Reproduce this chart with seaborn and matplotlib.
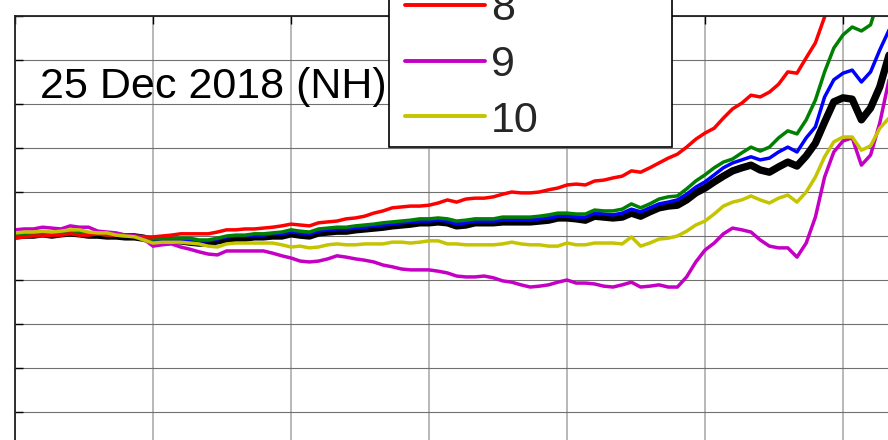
import matplotlib
matplotlib.use("Agg")
import matplotlib.pyplot as plt
import seaborn as sns
from matplotlib.legend_handler import HandlerLine2D

# ---- data (days since start, anomaly in arbitrary units, 1 grid step = 1 unit) ----
days = list(range(0, 191, 2))

mean_vals = [0.00, 0.02, 0.02, 0.05, 0.02, 0.05, 0.07, 0.05, 0.02, 0.02,
             0.00, 0.00, -0.02, -0.02, -0.05, -0.11, -0.11, -0.11, -0.11, -0.14,
             -0.16, -0.16, -0.11, -0.07, -0.05, -0.05, -0.02, -0.02, 0.00, 0.00,
             0.05, 0.02, 0.00, 0.07, 0.09, 0.11, 0.11, 0.14, 0.16, 0.18,
             0.20, 0.23, 0.25, 0.27, 0.30, 0.30, 0.32, 0.30, 0.23, 0.25,
             0.30, 0.30, 0.30, 0.32, 0.32, 0.32, 0.32, 0.34, 0.36, 0.41,
             0.41, 0.39, 0.36, 0.45, 0.43, 0.41, 0.43, 0.52, 0.45, 0.55,
             0.64, 0.68, 0.70, 0.82, 0.98, 1.09, 1.23, 1.36, 1.48, 1.55,
             1.61, 1.50, 1.45, 1.57, 1.68, 1.59, 1.82, 2.11, 2.59, 3.05,
             3.14, 3.11, 2.64, 2.91, 3.39, 4.11]

blue_vals = [0.02, 0.05, 0.05, 0.07, 0.05, 0.07, 0.09, 0.07, 0.05, 0.05,
             0.02, 0.02, 0.00, 0.00, -0.02, -0.07, -0.07, -0.07, -0.07, -0.09,
             -0.11, -0.11, -0.07, -0.02, 0.00, 0.00, 0.02, 0.02, 0.05, 0.05,
             0.09, 0.07, 0.05, 0.11, 0.14, 0.16, 0.16, 0.18, 0.20, 0.23,
             0.25, 0.27, 0.30, 0.32, 0.34, 0.34, 0.36, 0.34, 0.27, 0.30,
             0.34, 0.34, 0.34, 0.36, 0.36, 0.36, 0.36, 0.39, 0.41, 0.45,
             0.45, 0.43, 0.43, 0.52, 0.50, 0.48, 0.52, 0.61, 0.55, 0.64,
             0.73, 0.77, 0.82, 0.95, 1.11, 1.23, 1.39, 1.55, 1.66, 1.73,
             1.80, 1.73, 1.77, 1.91, 2.02, 1.91, 2.23, 2.48, 3.16, 3.55,
             3.70, 3.77, 3.50, 3.73, 4.23, 4.68]

green_vals = [0.02, 0.05, 0.05, 0.07, 0.05, 0.07, 0.09, 0.07, 0.05, 0.05,
              0.02, 0.02, 0.00, 0.00, -0.02, -0.07, -0.05, -0.05, -0.05, -0.05,
              -0.09, -0.09, -0.05, 0.00, 0.02, 0.02, 0.05, 0.05, 0.07, 0.09,
              0.14, 0.11, 0.09, 0.16, 0.18, 0.20, 0.20, 0.23, 0.25, 0.27,
              0.30, 0.32, 0.34, 0.36, 0.39, 0.39, 0.41, 0.39, 0.34, 0.36,
              0.39, 0.39, 0.39, 0.43, 0.43, 0.43, 0.43, 0.45, 0.48, 0.52,
              0.52, 0.50, 0.50, 0.59, 0.57, 0.57, 0.61, 0.73, 0.64, 0.73,
              0.84, 0.89, 0.91, 1.07, 1.25, 1.39, 1.55, 1.68, 1.75, 1.89,
              2.02, 1.93, 2.02, 2.23, 2.39, 2.32, 2.64, 3.09, 3.73, 4.27,
              4.57, 4.75, 4.66, 4.80, 5.48, 6.05]

red_vals = [-0.05, -0.02, 0.00, 0.00, 0.02, 0.02, 0.05, 0.02, 0.02, 0.05,
            0.02, 0.02, 0.00, 0.00, -0.02, -0.02, 0.00, 0.02, 0.05, 0.05,
            0.05, 0.05, 0.09, 0.14, 0.14, 0.16, 0.16, 0.18, 0.20, 0.23,
            0.27, 0.25, 0.23, 0.30, 0.32, 0.34, 0.39, 0.41, 0.45, 0.52,
            0.57, 0.64, 0.66, 0.68, 0.68, 0.70, 0.75, 0.82, 0.77, 0.84,
            0.86, 0.86, 0.89, 0.95, 1.00, 0.98, 0.98, 1.00, 1.05, 1.09,
            1.16, 1.18, 1.16, 1.25, 1.27, 1.32, 1.36, 1.48, 1.45, 1.55,
            1.66, 1.77, 1.86, 2.02, 2.20, 2.34, 2.45, 2.68, 2.89, 3.02,
            3.20, 3.16, 3.27, 3.45, 3.73, 3.70, 4.05, 4.39, 4.98, 5.59,
            6.05, 6.27, 6.39, 6.50, 6.61, 6.73]

magenta_vals = [0.14, 0.16, 0.16, 0.20, 0.18, 0.16, 0.23, 0.20, 0.20, 0.11,
                0.09, 0.07, 0.02, 0.00, -0.07, -0.23, -0.20, -0.18, -0.25, -0.30,
                -0.36, -0.41, -0.43, -0.34, -0.34, -0.34, -0.34, -0.34, -0.39, -0.45,
                -0.50, -0.57, -0.59, -0.57, -0.52, -0.45, -0.48, -0.52, -0.55, -0.59,
                -0.66, -0.70, -0.75, -0.77, -0.77, -0.77, -0.80, -0.84, -0.91, -0.93,
                -0.93, -0.91, -0.95, -1.02, -1.05, -1.11, -1.16, -1.14, -1.11, -1.05,
                -1.00, -1.07, -1.07, -1.09, -1.14, -1.16, -1.11, -1.05, -1.16, -1.14,
                -1.11, -1.16, -1.16, -0.93, -0.59, -0.32, -0.16, 0.05, 0.18, 0.14,
                0.09, -0.09, -0.23, -0.27, -0.27, -0.48, -0.16, 0.43, 1.34, 1.91,
                2.16, 2.23, 1.61, 1.84, 2.57, 3.55]

yellow_vals = [0.07, 0.09, 0.09, 0.11, 0.09, 0.11, 0.14, 0.14, 0.09, 0.07,
               0.07, 0.02, 0.00, -0.02, -0.09, -0.16, -0.14, -0.14, -0.14, -0.16,
               -0.18, -0.23, -0.25, -0.18, -0.16, -0.16, -0.16, -0.16, -0.16, -0.20,
               -0.25, -0.23, -0.27, -0.25, -0.20, -0.18, -0.20, -0.20, -0.18, -0.18,
               -0.18, -0.14, -0.14, -0.16, -0.14, -0.11, -0.11, -0.18, -0.18, -0.20,
               -0.20, -0.20, -0.20, -0.18, -0.14, -0.18, -0.20, -0.20, -0.23, -0.23,
               -0.16, -0.20, -0.20, -0.16, -0.16, -0.16, -0.18, -0.02, -0.23, -0.16,
               -0.07, -0.05, 0.00, 0.11, 0.25, 0.34, 0.50, 0.68, 0.77, 0.82,
               0.91, 0.82, 0.75, 0.86, 0.93, 0.77, 1.00, 1.34, 1.80, 2.14,
               2.25, 2.25, 1.95, 2.05, 2.45, 2.68]

series = [mean_vals, blue_vals, green_vals, red_vals, magenta_vals, yellow_vals]
colors = ["#000000", "#0000ff", "#008000", "#ff0000", "#c400c4", "#c4c400"]
widths = [5.3, 2.5, 2.5, 2.5, 2.5, 2.5]
legend_labels = ["8", "9", "10"]
legend_colors = ["#ff0000", "#c400c4", "#c4c400"]
title_text = "25 Dec 2018 (NH)"

# ---- style ----
sns.set_style("white")
plt.rcParams["font.family"] = ["Liberation Sans", "DejaVu Sans"]

W, H = 888, 440
fig = plt.figure(figsize=(W / 100, H / 100), dpi=100)
ax = fig.add_axes([15 / W, 0, 1 - 15 / W, (H - 16) / H])

for vals, col, lw in zip(series, colors, widths):
    sns.lineplot(x=days, y=vals, color=col, linewidth=lw, ax=ax, legend=False)

ax.set_xlim(0, (W - 15) / 4.6)
ax.set_ylim((236 - H) / 44, 5)
ax.set_xticks(list(range(0, 181, 30)))
ax.set_yticks(list(range(-4, 6)))
ax.xaxis.grid(True, color="#b8b8b8", linewidth=1.4)
ax.yaxis.grid(True, color="#707070", linewidth=0.8)
ax.set_axisbelow(True)
ax.tick_params(axis="both", direction="in", length=6, width=1, colors="black",
               labelleft=False, labelbottom=False, labeltop=False,
               top=True, bottom=False, left=True, right=False)
for s in ["right", "bottom"]:
    ax.spines[s].set_visible(False)
for s in ["left", "top"]:
    ax.spines[s].set_color("#222222")
    ax.spines[s].set_linewidth(1.3)
ax.set_xlabel("")
ax.set_ylabel("")


class OffsetLine(HandlerLine2D):
    def __init__(self, pad, **kw):
        super().__init__(**kw)
        self.pad = pad

    def create_artists(self, legend, orig_handle, xdescent, ydescent, width,
                       height, fontsize, trans):
        return super().create_artists(legend, orig_handle, xdescent - self.pad,
                                      ydescent, width - self.pad, height,
                                      fontsize, trans)


leg_handles = [plt.Line2D([], [], color=c, linewidth=2.8) for c in legend_colors]
leg = ax.legend(leg_handles, legend_labels, loc="lower left",
                bbox_to_anchor=(389 / W, 1 - 147 / H, 283 / W, 0),
                bbox_transform=fig.transFigure, mode="expand",
                borderaxespad=0, borderpad=0.15, fontsize=31,
                handlelength=2.08, handletextpad=0.14, labelspacing=0.37,
                fancybox=False, framealpha=1, edgecolor="black",
                handler_map={plt.Line2D: OffsetLine(6.8)})
leg.get_frame().set_linewidth(1.2)
leg.set_zorder(10)

fig.text(40 / W, 1 - 98 / H, title_text, fontsize=31, va="baseline",
         ha="left", color="black")

fig.savefig("out.png", dpi=100)
